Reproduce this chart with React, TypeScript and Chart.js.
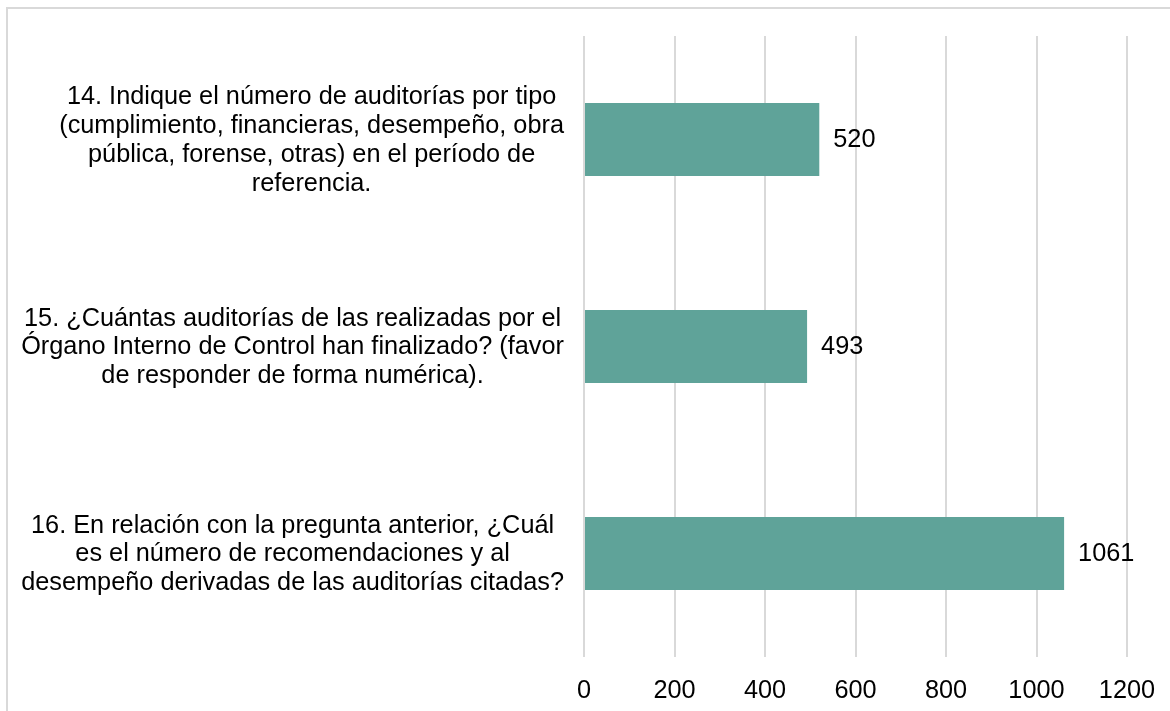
import React, { useEffect, useRef } from "react";
import { Chart, registerables } from "chart.js";

Chart.register(...registerables);

const categories: string[][] = [
  [
    "14. Indique el número de auditorías por tipo",
    "(cumplimiento, financieras, desempeño, obra",
    "pública, forense, otras) en el período de",
    "referencia.",
  ],
  [
    "15. ¿Cuántas auditorías de las realizadas por el",
    "Órgano Interno de Control han finalizado? (favor",
    "de responder de forma numérica).",
  ],
  [
    "16. En relación con la pregunta anterior, ¿Cuál",
    "es el número de recomendaciones y al",
    "desempeño derivadas de las auditorías citadas?",
  ],
];

const values: number[] = [520, 493, 1061];

const xTicks = { min: 0, max: 1200, step: 200 };

const FONT = "'Liberation Sans', Arial, sans-serif";
const FONT_SIZE = 25.3;

const labelsPlugin = {
  id: "customLabels",
  afterDraw(chart: any) {
    const ctx = chart.ctx as CanvasRenderingContext2D;
    const yScale = chart.scales.y;
    const meta = chart.getDatasetMeta(0);
    ctx.save();
    ctx.font = `${FONT_SIZE}px ${FONT}`;
    ctx.fillStyle = "#000000";
    const rightEdge = chart.chartArea.left - 20;
    const lineH = 28.8;
    categories.forEach((lines, i) => {
      const cy = yScale.getPixelForValue(i);
      const maxW = Math.max(...lines.map((l) => ctx.measureText(l).width));
      const cx = rightEdge - maxW / 2;
      ctx.textAlign = "center";
      ctx.textBaseline = "middle";
      const startY = cy - ((lines.length - 1) * lineH) / 2 + 1;
      lines.forEach((l, j) => {
        ctx.fillText(l, cx, startY + j * lineH);
      });
    });
    ctx.textAlign = "left";
    ctx.textBaseline = "middle";
    meta.data.forEach((bar: any, i: number) => {
      ctx.fillText(String(values[i]), bar.x + 14, bar.y + 1);
    });
    ctx.restore();
  },
};

export default function App() {
  const canvasRef = useRef<HTMLCanvasElement | null>(null);

  useEffect(() => {
    if (!canvasRef.current) return;
    const chart = new Chart(canvasRef.current, {
      type: "bar",
      data: {
        labels: categories.map((_, i) => String(i)),
        datasets: [
          {
            data: values,
            backgroundColor: "#5fa399",
            borderWidth: 0,
            barPercentage: 0.353,
            categoryPercentage: 1,
          },
        ],
      },
      options: {
        indexAxis: "y",
        responsive: false,
        animation: false,
        layout: { padding: { top: 36, right: 43, bottom: 0, left: 0 } },
        plugins: {
          legend: { display: false },
          tooltip: { enabled: false },
        },
        scales: {
          x: {
            min: xTicks.min,
            max: xTicks.max,
            ticks: {
              stepSize: xTicks.step,
              color: "#000000",
              font: { family: FONT, size: FONT_SIZE },
              padding: 19,
              callback: (v: any) => String(v),
            },
            grid: {
              color: "#d9d9d9",
              lineWidth: 2,
              drawTicks: false,
            },
            border: { display: false },
            afterFit: (scale: any) => {
              scale.height = 54;
              scale.paddingRight = 0;
              scale.paddingLeft = 0;
            },
          },
          y: {
            ticks: { display: false },
            grid: { display: false, drawTicks: false },
            border: { display: false },
            afterFit: (scale: any) => {
              scale.width = 584;
            },
          },
        },
      },
      plugins: [labelsPlugin],
    });
    return () => chart.destroy();
  }, []);

  return (
    <div
      style={{
        position: "fixed",
        left: 0,
        top: 0,
        width: 1170,
        height: 711,
        overflow: "hidden",
        background: "#ffffff",
      }}
    >
      <div
        style={{
          position: "absolute",
          left: 6,
          top: 7,
          width: 1200,
          height: 800,
          border: "2px solid #d9d9d9",
          boxSizing: "border-box",
        }}
      />
      <canvas
        ref={canvasRef}
        width={1170}
        height={711}
        style={{ position: "absolute", left: 0, top: 0, width: 1170, height: 711 }}
      />
    </div>
  );
}
